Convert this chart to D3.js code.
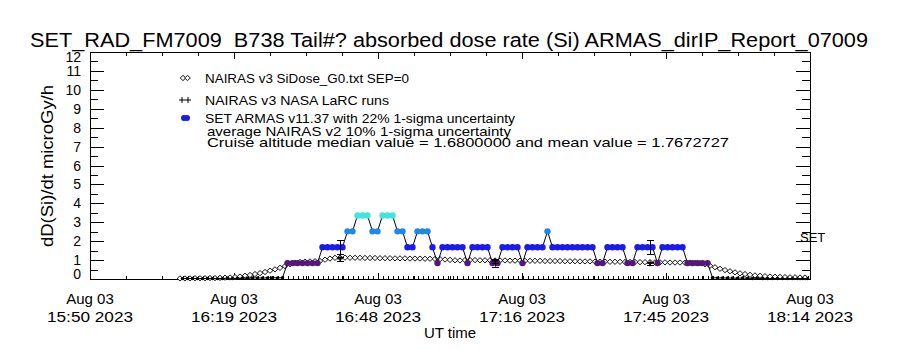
<!DOCTYPE html>
<html><head><meta charset="utf-8">
<script src="https://cdn.jsdelivr.net/npm/d3@7"></script>
<style>
body{margin:0;background:#fff;}
text{font-family:"Liberation Sans",Arial,sans-serif;fill:#000;white-space:pre;}
</style></head>
<body><svg id="c" width="900" height="350"></svg>
<script>
// ---------- data ----------
const titleText = "SET_RAD_FM7009  B738 Tail#? absorbed dose rate (Si) ARMAS_dirIP_Report_07009";
const xStart = "2023-08-03T15:50:00Z", xEnd = "2023-08-03T18:14:00Z";
const xTickTimes = ["2023-08-03T15:50:00Z","2023-08-03T16:18:48Z","2023-08-03T16:47:36Z","2023-08-03T17:16:24Z","2023-08-03T17:45:12Z","2023-08-03T18:14:00Z"];
const xTickLine1 = ["Aug 03","Aug 03","Aug 03","Aug 03","Aug 03","Aug 03"];
const xTickLine2 = ["15:50 2023","16:19 2023","16:48 2023","17:16 2023","17:45 2023","18:14 2023"];
const yTicks = [0,1,2,3,4,5,6,7,8,9,10,11,12];

// NAIRAS v3 SiDose (one value per minute, starting 16:08 UT)
const nairasStart = "2023-08-03T16:08:00Z";
const nairasValues = [
 0.03,0.03,0.03,0.04,0.04,0.04,0.05,0.05,0.06,0.07,0.08,
 0.10,0.13,0.17,0.21,0.26,0.31,0.37,0.44,0.51,0.59,
 0.68,0.78,0.86,0.90,0.92,0.93,0.94,0.95,
 1.02,1.08,
 1.12,1.13,1.13,1.12,1.12,1.12,1.11,1.11,1.11,1.10,1.10,1.10,1.09,1.09,1.09,1.08,1.08,1.08,1.07,1.07,1.06,1.05,1.03,1.01,0.99,0.98,
 1.00,1.00,1.00,0.99,0.99,0.99,0.98,0.98,0.98,0.97,0.97,0.97,0.96,0.96,0.96,0.96,0.95,0.95,0.95,0.95,0.94,0.94,0.94,0.93,0.93,0.93,0.92,0.92,0.92,0.91,0.91,0.91,0.90,0.90,0.90,0.89,0.89,0.89,0.88,0.88,0.88,0.87,0.87,0.87,0.86,0.86,0.85,0.84,
 0.78,0.70,0.62,0.54,0.47,0.41,0.35,0.30,0.26,0.22,0.19,0.17,0.15,0.13,0.12,0.11,0.10,0.09,0.09,0.08,0.08
];

// SET ARMAS (one record per minute, starting 16:08:30 UT)
const armasStart = "2023-08-03T16:08:30Z";
const armasValues = [
 0.02,0.02,0.03,0.02,0.02,0.03,0.03,0.02,0.03,0.04,0.03,0.04,0.05,0.04,0.05,0.06,0.05,0.06,0.07,0.06,0.07,
 0.84,0.84,0.84,0.84,0.84,0.84,0.84,
 1.68,1.68,1.68,1.68,1.68,
 2.52,2.52,
 3.36,3.36,3.36,
 2.52,2.52,
 3.36,3.36,3.36,
 2.52,2.52,
 1.68,1.68,
 2.52,2.52,2.52,
 1.68,
 0.84,
 1.68,1.68,1.68,1.68,1.68,
 0.84,
 1.68,1.68,1.68,1.68,
 0.84,0.84,
 1.68,1.68,1.68,1.68,
 0.84,
 1.68,1.68,1.68,1.68,
 2.52,
 1.68,1.68,1.68,1.68,1.68,1.68,1.68,1.68,1.68,
 0.84,0.84,
 1.68,1.68,1.68,1.68,
 0.84,0.84,
 1.68,1.68,1.68,1.68,
 0.84,
 1.68,1.68,1.68,1.68,1.68,
 0.84,0.84,0.84,0.84,0.84,
 0.07,0.06,0.06,0.05,0.05,0.04,0.05,0.04,0.03,0.04,0.03,0.03,0.02,0.03,0.02,0.02,0.03,0.02,0.02,0.02
];

// NAIRAS v3 NASA LaRC runs with uncertainty comparison points
const larcTimes = ["2023-08-03T16:40:00Z","2023-08-03T17:11:00Z","2023-08-03T17:42:00Z"];
const larcValues = [1.07, 0.95, 0.83];
const armasAtLarc = [1.68, 0.84, 1.68];
const armasUnc = 0.22, nairasUnc = 0.10;

const legendLabels = ["NAIRAS v3 SiDose_G0.txt SEP=0","NAIRAS v3 NASA LaRC runs","SET ARMAS v11.37 with 22% 1-sigma uncertainty"];
const noteLabels = ["average NAIRAS v2 10% 1-sigma uncertainty","Cruise altitude median value = 1.6800000 and mean value = 1.7672727"];

// ---------- drawing ----------
const svg = d3.select("#c");
const L=90, R=810, T=52, B=279;
const x = d3.scaleUtc().domain([new Date(xStart), new Date(xEnd)]).range([L,R]);
const y = d3.scaleLinear().domain([0,12]).range([B,T]);
const minute = 60000;

function levelColor(v){
  if (v < 0.5) return "#000000";
  if (v < 1.2) return "#55177e";
  if (v < 2.1) return "#1a1aee";
  if (v < 2.9) return "#1e88e8";
  return "#3ee6dc";
}

// title
svg.append("text").attr("x",30).attr("y",47).attr("font-size",20)
  .attr("textLength",838).attr("lengthAdjust","spacingAndGlyphs").text(titleText);

// frame
const g = svg.append("g");
g.append("rect").attr("x",L).attr("y",T).attr("width",R-L).attr("height",B-T)
  .attr("fill","none").attr("stroke","#000").attr("stroke-width",1).attr("shape-rendering","crispEdges");

// y ticks (both sides)
const yMinor = d3.range(0.5,12,1);
yTicks.forEach(v=>{
  const yy=Math.round(y(v))+0.5;
  g.append("line").attr("x1",L).attr("x2",L+14).attr("y1",yy).attr("y2",yy).attr("stroke","#000");
  g.append("line").attr("x1",R-14).attr("x2",R).attr("y1",yy).attr("y2",yy).attr("stroke","#000");
  let cy = y(v);
  cy = Math.max(T+5, Math.min(B-5, cy));
  g.append("text").attr("x",81).attr("y",cy+5).attr("text-anchor","end").attr("font-size",14).text(v);
});
yMinor.forEach(v=>{
  const yy=Math.round(y(v))+0.5;
  g.append("line").attr("x1",L).attr("x2",L+8).attr("y1",yy).attr("y2",yy).attr("stroke","#000");
  g.append("line").attr("x1",R-8).attr("x2",R).attr("y1",yy).attr("y2",yy).attr("stroke","#000");
});

// x ticks
const xMinor = d3.range(0,21).map(i=>new Date(+new Date(xStart)+i*7.2*minute));
xMinor.forEach(t=>{
  const xx=Math.round(x(t))+0.5;
  g.append("line").attr("x1",xx).attr("x2",xx).attr("y1",T).attr("y2",T+4).attr("stroke","#000");
  g.append("line").attr("x1",xx).attr("x2",xx).attr("y1",B).attr("y2",B-3).attr("stroke","#000");
});
xTickTimes.forEach((s,i)=>{
  const t=new Date(s), xx=Math.round(x(t))+0.5;
  g.append("line").attr("x1",xx).attr("x2",xx).attr("y1",T).attr("y2",T+7).attr("stroke","#000");
  g.append("line").attr("x1",xx).attr("x2",xx).attr("y1",B).attr("y2",B-6).attr("stroke","#000");
  svg.append("text").attr("x",x(t)).attr("y",304).attr("text-anchor","middle").attr("font-size",15).text(xTickLine1[i]);
  svg.append("text").attr("x",x(t)).attr("y",322).attr("text-anchor","middle").attr("font-size",15)
     .attr("textLength",86).attr("lengthAdjust","spacingAndGlyphs").text(xTickLine2[i]);
});
svg.append("text").attr("x",450).attr("y",338).attr("text-anchor","middle").attr("font-size",15).text("UT time");
svg.append("text").attr("transform","translate(53,166) rotate(-90)").attr("text-anchor","middle")
  .attr("font-size",16).attr("textLength",162).attr("lengthAdjust","spacingAndGlyphs").text("dD(Si)/dt microGy/h");

// data
const nairas = nairasValues.map((v,i)=>({t:new Date(+new Date(nairasStart)+i*minute), v}));
const armas = armasValues.map((v,i)=>({t:new Date(+new Date(armasStart)+i*minute), v}));

// record ticks along bottom
g.selectAll(".rt").data(armas).enter().append("line")
  .attr("x1",d=>Math.round(x(d.t))+0.5).attr("x2",d=>Math.round(x(d.t))+0.5)
  .attr("y1",B).attr("y2",B-3).attr("stroke","#000");

// NAIRAS diamonds
const dia = "M0,-2.6L2.8,0L0,2.6L-2.8,0Z";
g.selectAll(".nd").data(nairas).enter().append("path")
  .attr("d",dia).attr("transform",d=>`translate(${x(d.t)},${y(d.v)})`)
  .attr("fill","#fff").attr("stroke","#000").attr("stroke-width",0.9);

// ARMAS line
g.append("path").datum(armas)
  .attr("d",d3.line().x(d=>x(d.t)).y(d=>y(d.v)))
  .attr("fill","none").attr("stroke","#000").attr("stroke-width",1);
g.selectAll(".ad").data(armas).enter().append("circle")
  .attr("cx",d=>x(d.t)).attr("cy",d=>y(d.v))
  .attr("r",d=>d.v<0.5?1.7:3.2).attr("fill",d=>levelColor(d.v));

// error bars and LaRC points
function ebar(t, lo, hi, w){
  const xx=Math.round(x(t))+0.5;
  g.append("line").attr("x1",xx).attr("x2",xx).attr("y1",y(lo)).attr("y2",y(hi)).attr("stroke","#000");
  [lo,hi].forEach(v=>g.append("line").attr("x1",xx-w).attr("x2",xx+w).attr("y1",Math.round(y(v))+0.5).attr("y2",Math.round(y(v))+0.5).attr("stroke","#000"));
}
larcTimes.forEach((s,i)=>{
  const t=new Date(s);
  ebar(t, armasAtLarc[i]*(1-armasUnc), armasAtLarc[i]*(1+armasUnc), 3.5);
  ebar(t, larcValues[i]*(1-nairasUnc), larcValues[i]*(1+nairasUnc), 3.5);
  const xx=x(t), yy=y(larcValues[i]);
  g.append("path").attr("d",`M${xx-3},${yy}H${xx+3}M${xx},${yy-3}V${yy+3}`).attr("stroke","#000");
});

// SET label
svg.append("text").attr("x",800).attr("y",242).attr("font-size",13).text("SET");

// legend
const lg = svg.append("g");
const lgY = [83,105,123];
lg.append("path").attr("d",dia).attr("transform",`translate(183,${lgY[0]-5})`).attr("fill","#fff").attr("stroke","#000").attr("stroke-width",0.9);
lg.append("path").attr("d",dia).attr("transform",`translate(187.5,${lgY[0]-5})`).attr("fill","#fff").attr("stroke","#000").attr("stroke-width",0.9);
[182,188].forEach(xx=>lg.append("path").attr("d",`M${xx-3},${lgY[1]-5}H${xx+3}M${xx},${lgY[1]-8}V${lgY[1]-2}`).attr("stroke","#000"));
[184,187].forEach(xx=>lg.append("circle").attr("cx",xx).attr("cy",lgY[2]-5).attr("r",3).attr("fill","#1a1aee"));
const lw=[204,184,310];
legendLabels.forEach((s,i)=>lg.append("text").attr("x",205).attr("y",lgY[i]).attr("font-size",13)
   .attr("textLength",lw[i]).attr("lengthAdjust","spacingAndGlyphs").text(s));
lg.append("text").attr("x",207).attr("y",136).attr("font-size",13).attr("textLength",304).attr("lengthAdjust","spacingAndGlyphs").text(noteLabels[0]);
lg.append("text").attr("x",207).attr("y",147).attr("font-size",13).attr("textLength",522).attr("lengthAdjust","spacingAndGlyphs").text(noteLabels[1]);
</script></body></html>
